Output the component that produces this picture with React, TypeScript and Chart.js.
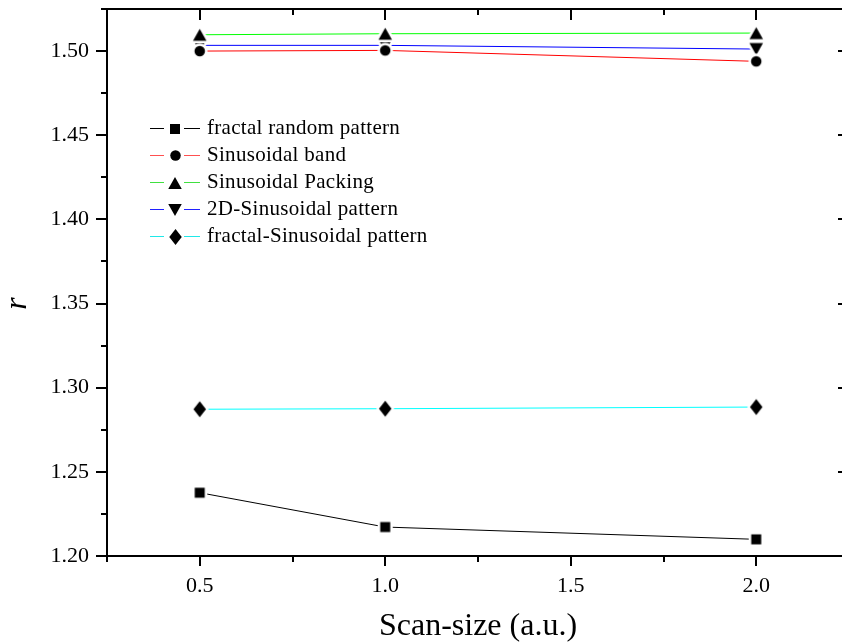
import React, { useEffect, useRef } from 'react';
import { Chart, registerables } from 'chart.js';

Chart.register(...registerables);

// ---- data ----
const scanSizes = [0.5, 1.0, 2.0];
const fractalRandom = [1.2376, 1.2172, 1.2099];
const sinusoidalBand = [1.5, 1.5004, 1.4939];
const sinusoidalPacking = [1.5097, 1.5103, 1.5107];
const sinusoidal2D = [1.5034, 1.5034, 1.5012];
const fractalSinusoidal = [1.2872, 1.2875, 1.2885];

const seriesLabels = [
  'fractal random pattern',
  'Sinusoidal band',
  'Sinusoidal Packing',
  '2D-Sinusoidal pattern',
  'fractal-Sinusoidal pattern',
];
const seriesValues = [fractalRandom, sinusoidalBand, sinusoidalPacking, sinusoidal2D, fractalSinusoidal];
const seriesColors = ['#000000', '#ff0000', '#00ff00', '#0000ff', '#00ffff'];
const legendLineColors = ['#000000', '#ff5050', '#40e040', '#2020ff', '#20e8e8'];

const xTickValues = [0.5, 1.0, 1.5, 2.0];
const xMinorTickValues = [0.75, 1.25, 1.75];
const yTickValues = [1.2, 1.25, 1.3, 1.35, 1.4, 1.45, 1.5];
const yMinorTickValues = [1.225, 1.275, 1.325, 1.375, 1.425, 1.475];
const xMin = 0.25;
const xMax = 2.25;
const yMin = 1.2;
const yMax = 1.525;

const xTitle = 'Scan-size (a.u.)';
const yTitle = 'r';

const FONT = '"Liberation Serif", "Times New Roman", serif';

type Shape = 'square' | 'circle' | 'up' | 'down' | 'diamond';
const seriesShapes: Shape[] = ['square', 'circle', 'up', 'down', 'diamond'];
const shapeSizes: Record<Shape, [number, number]> = {
  square: [10, 10],
  circle: [10.5, 10.5],
  up: [13.5, 12],
  down: [13.5, 12],
  diamond: [12.5, 16],
};

function makeMarker(shape: Shape, halo: number): HTMLCanvasElement {
  const [w, h] = shapeSizes[shape];
  const c = document.createElement('canvas');
  const pad = halo + 1;
  c.width = Math.round(w + pad * 2);
  c.height = Math.round(h + pad * 2);
  const ctx = c.getContext('2d')!;
  const cx = c.width / 2;
  const cy = c.height / 2;
  ctx.beginPath();
  if (shape === 'square') {
    ctx.rect(cx - w / 2, cy - h / 2, w, h);
  } else if (shape === 'circle') {
    ctx.ellipse(cx, cy, w / 2, h / 2, 0, 0, Math.PI * 2);
  } else if (shape === 'up') {
    ctx.moveTo(cx, cy - h / 2);
    ctx.lineTo(cx + w / 2, cy + h / 2);
    ctx.lineTo(cx - w / 2, cy + h / 2);
    ctx.closePath();
  } else if (shape === 'down') {
    ctx.moveTo(cx, cy + h / 2);
    ctx.lineTo(cx + w / 2, cy - h / 2);
    ctx.lineTo(cx - w / 2, cy - h / 2);
    ctx.closePath();
  } else {
    ctx.moveTo(cx, cy - h / 2);
    ctx.lineTo(cx + w / 2, cy);
    ctx.lineTo(cx, cy + h / 2);
    ctx.lineTo(cx - w / 2, cy);
    ctx.closePath();
  }
  if (halo > 0) {
    ctx.strokeStyle = '#ffffff';
    ctx.lineWidth = halo * 2;
    ctx.lineJoin = 'round';
    ctx.stroke();
  }
  ctx.fillStyle = '#000000';
  ctx.fill();
  return c;
}

export default function App() {
  const ref = useRef<HTMLCanvasElement | null>(null);

  useEffect(() => {
    if (!ref.current) return;
    const plotMarkers = seriesShapes.map((s) => makeMarker(s, 2.5));
    const legendMarkers = seriesShapes.map((s) => makeMarker(s, 0));

    const framePlugin = {
      id: 'frameAndLegend',
      afterDraw(chart: any) {
        const { ctx, chartArea } = chart;
        const { left, right, top, bottom } = chartArea;
        const xs = chart.scales.x;
        const ys = chart.scales.y;
        ctx.save();
        // frame
        ctx.strokeStyle = '#000';
        ctx.lineWidth = 2;
        ctx.strokeRect(left, top, right - left, bottom - top);
        ctx.beginPath();
        xTickValues.forEach((v) => {
          const px = Math.round(xs.getPixelForValue(v));
          ctx.moveTo(px, bottom);
          ctx.lineTo(px, bottom + 10);
          ctx.moveTo(px, top);
          ctx.lineTo(px, top + 11);
        });
        [xMin, ...xMinorTickValues, xMax].forEach((v) => {
          const px = Math.round(xs.getPixelForValue(v));
          ctx.moveTo(px, bottom);
          ctx.lineTo(px, bottom + 6);
          ctx.moveTo(px, top);
          ctx.lineTo(px, top + 6);
        });
        yTickValues.forEach((v) => {
          const py = Math.round(ys.getPixelForValue(v));
          ctx.moveTo(left, py);
          ctx.lineTo(left - 11, py);
          ctx.moveTo(right, py);
          ctx.lineTo(right - 11, py);
        });
        [...yMinorTickValues, yMax].forEach((v) => {
          const py = Math.round(ys.getPixelForValue(v));
          ctx.moveTo(left, py);
          ctx.lineTo(left - 6, py);
          ctx.moveTo(right, py);
          ctx.lineTo(right - 6, py);
        });
        ctx.stroke();

        // y title
        ctx.save();
        ctx.translate(left - 89, (top + bottom) / 2 + 21);
        ctx.rotate(-Math.PI / 2);
        ctx.font = `italic 32px ${FONT}`;
        ctx.fillStyle = '#000';
        ctx.textAlign = 'center';
        ctx.textBaseline = 'middle';
        ctx.fillText(yTitle, 0, 0);
        ctx.restore();

        // legend
        const lx0 = left + 43;
        const ly0 = top + 118.7;
        const step = 27.1;
        ctx.font = `21px ${FONT}`;
        (ctx as any).letterSpacing = '0.3px';
        ctx.textAlign = 'left';
        ctx.textBaseline = 'middle';
        seriesLabels.forEach((label, i) => {
          const y = Math.round(ly0 + i * step) + 0.5;
          ctx.strokeStyle = legendLineColors[i];
          ctx.lineWidth = 1;
          ctx.beginPath();
          ctx.moveTo(lx0, y);
          ctx.lineTo(lx0 + 14, y);
          ctx.moveTo(lx0 + 34, y);
          ctx.lineTo(lx0 + 50, y);
          ctx.stroke();
          const m = legendMarkers[i];
          ctx.drawImage(m, Math.round(lx0 + 25 - m.width / 2), Math.round(y - m.height / 2));
          ctx.fillStyle = '#000';
          ctx.fillText(label, lx0 + 57, y);
        });
        (ctx as any).letterSpacing = '0px';
        ctx.restore();
      },
    };

    const chart = new Chart(ref.current, {
      type: 'line',
      data: {
        datasets: seriesLabels.map((label, i) => ({
          label,
          data: scanSizes.map((x, j) => ({ x, y: seriesValues[i][j] })),
          borderColor: seriesColors[i],
          backgroundColor: '#000',
          borderWidth: 1,
          tension: 0,
          pointStyle: plotMarkers[i],
          pointRadius: 6,
          pointHoverRadius: 6,
        })),
      },
      options: {
        animation: false,
        responsive: false,
        devicePixelRatio: 1,
        layout: { padding: { top: 9, right: 11, left: 0, bottom: 0 } },
        plugins: { legend: { display: false }, tooltip: { enabled: false } },
        scales: {
          x: {
            type: 'linear',
            min: xMin,
            max: xMax,
            grid: { display: false, drawTicks: false, tickLength: 0 },
            border: { display: false },
            afterBuildTicks: (s: any) => {
              s.ticks = xTickValues.map((value) => ({ value }));
            },
            afterFit: (s: any) => {
              s.height = 88;
              s.paddingLeft = 0;
              s.paddingRight = 0;
            },
            ticks: {
              padding: 17,
              color: '#000',
              font: { family: FONT, size: 22 },
              maxRotation: 0,
              autoSkip: false,
              callback: (v: any) => Number(v).toFixed(1),
            },
            title: {
              display: true,
              text: xTitle,
              color: '#000',
              font: { family: FONT, size: 32, lineHeight: 1.1 },
              padding: 0,
            },
          },
          y: {
            type: 'linear',
            min: yMin,
            max: yMax,
            grid: { display: false, drawTicks: false, tickLength: 0 },
            border: { display: false },
            afterBuildTicks: (s: any) => {
              s.ticks = yTickValues.map((value) => ({ value }));
            },
            afterFit: (s: any) => {
              s.width = 107;
              s.paddingTop = 0;
              s.paddingBottom = 0;
            },
            ticks: {
              padding: 18,
              color: '#000',
              font: { family: FONT, size: 22 },
              autoSkip: false,
              callback: (v: any) => Number(v).toFixed(2),
            },
          },
        },
      },
      plugins: [framePlugin],
    } as any);

    return () => chart.destroy();
  }, []);

  return (
    <div
      style={{
        position: 'fixed',
        left: 0,
        top: 0,
        width: 842,
        height: 644,
        overflow: 'hidden',
        background: '#fff',
      }}
    >
      <canvas ref={ref} width={860} height={644} style={{ display: 'block', width: 860, height: 644 }} />
    </div>
  );
}
